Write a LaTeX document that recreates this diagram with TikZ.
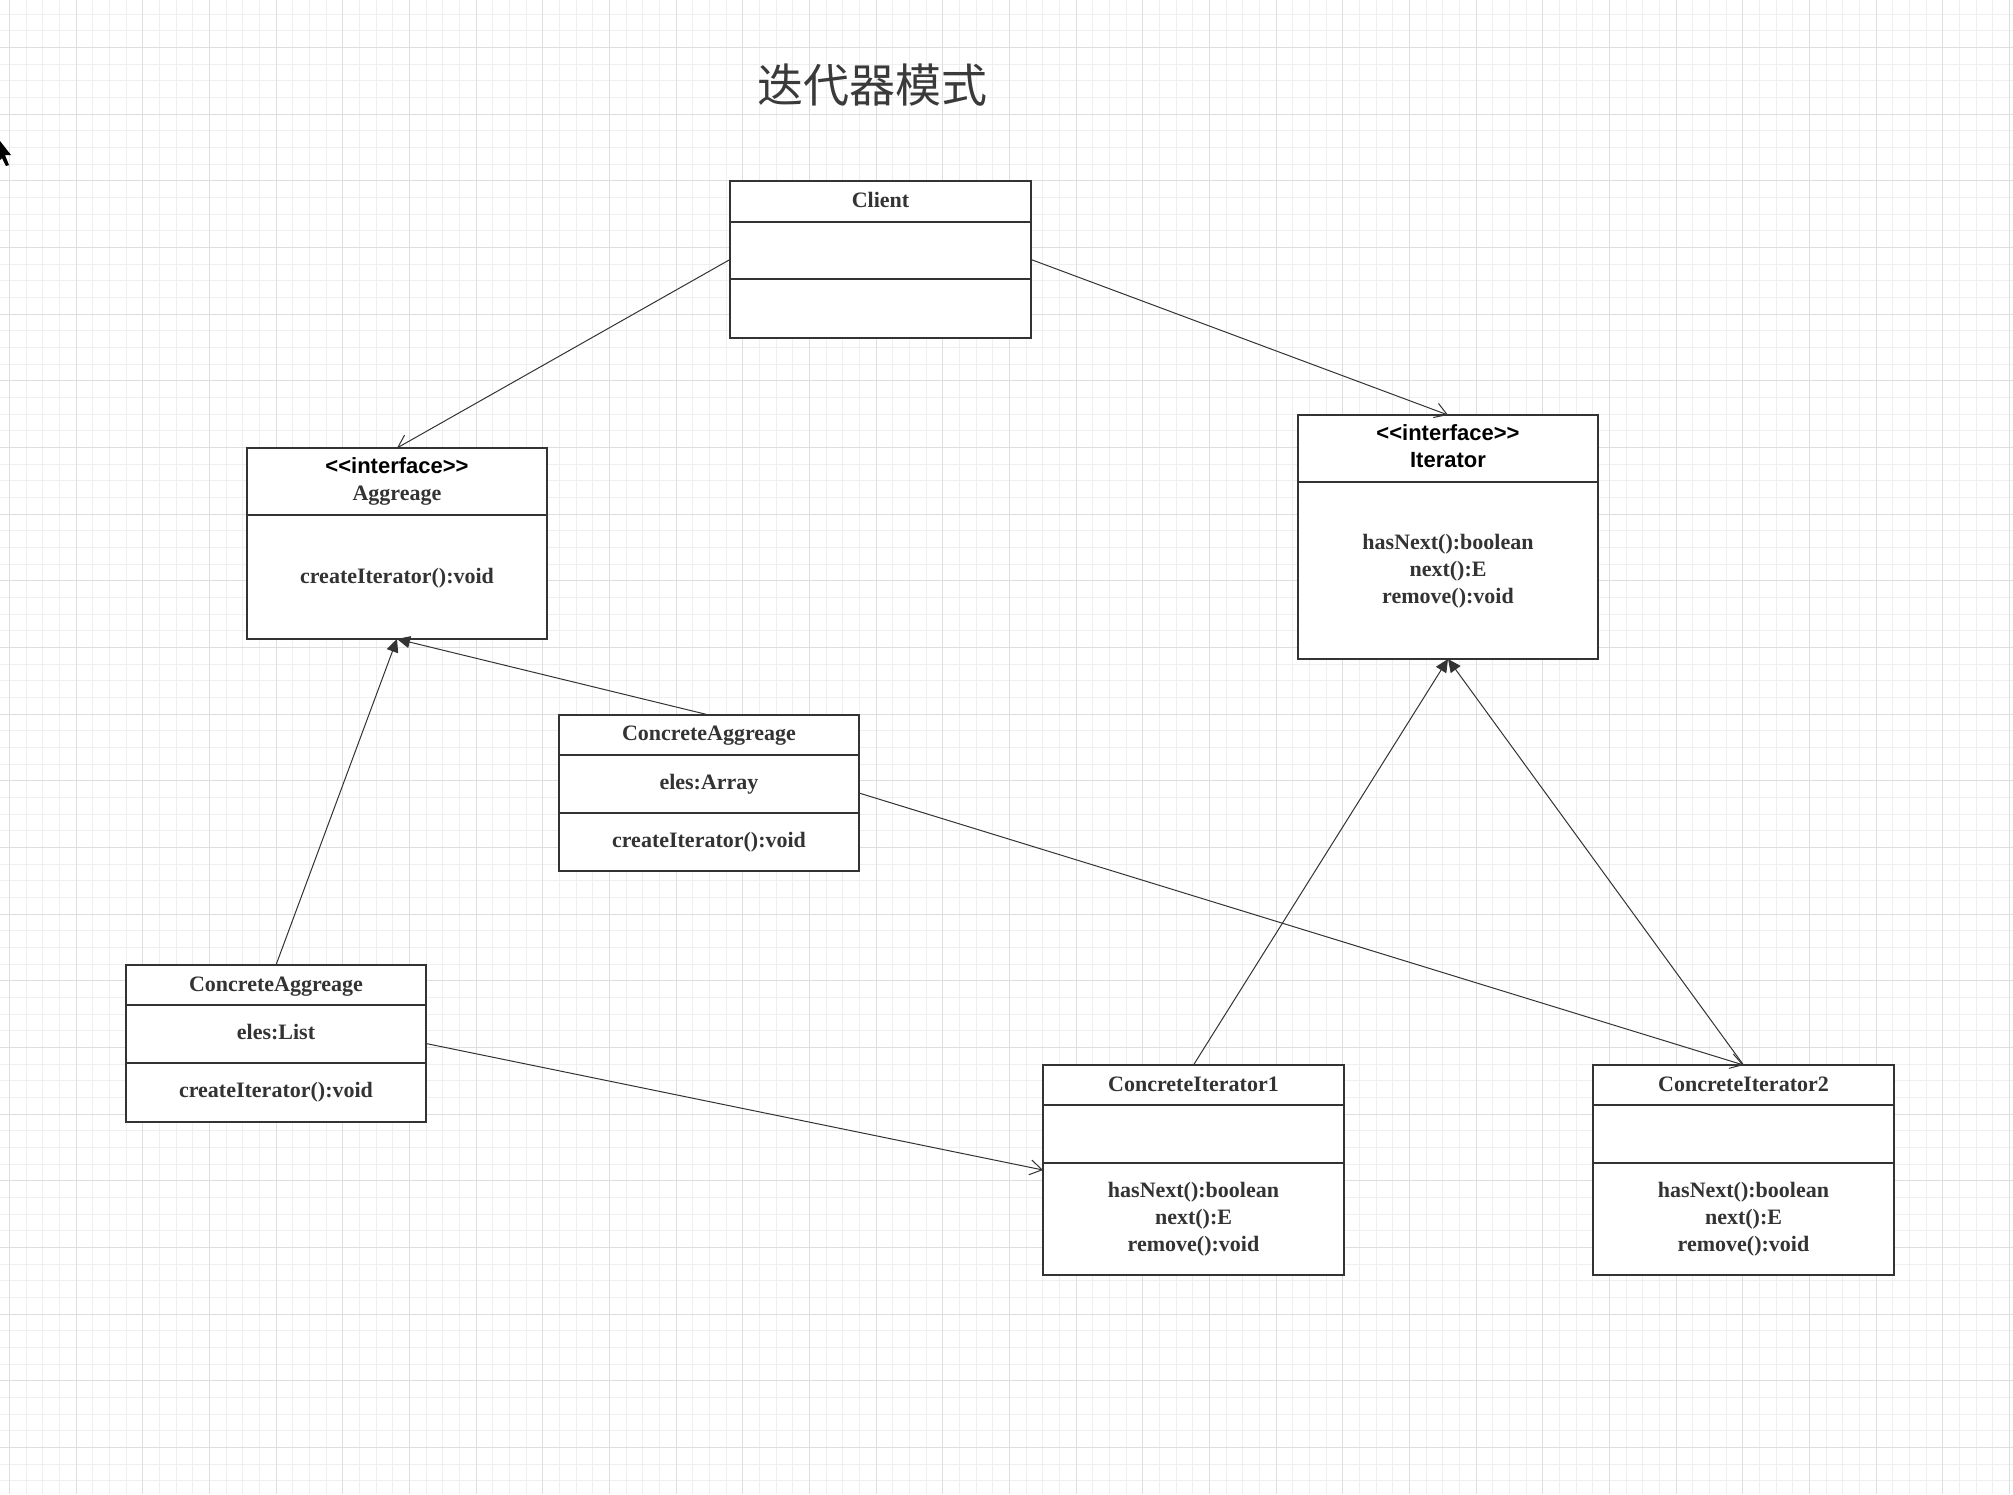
\documentclass[tikz,border=0pt]{standalone}
\usepackage{fontspec}
\setmainfont{Liberation Serif}
\setsansfont{Liberation Sans}
\newfontfamily\cjk{Noto Sans CJK SC}
\usetikzlibrary{arrows.meta,calc}
\definecolor{ink}{HTML}{333333}
\definecolor{titleink}{HTML}{3A3A3A}
\definecolor{gmin}{HTML}{EFEFEF}
\definecolor{gmaj}{HTML}{DEDEDE}
\tikzset{
  classbox/.style={draw=ink, line width=1pt, fill=white, inner sep=0pt, outer sep=0pt},
  divider/.style={draw=ink, line width=1pt},
  lbl/.style={font=\fontsize{11}{13.5}\selectfont\bfseries, text=ink, inner sep=0pt, anchor=base},
  slbl/.style={font=\fontsize{11}{13.5}\selectfont\sffamily\bfseries, text=black, inner sep=0pt, anchor=base},
  assoc/.style={draw=ink, line width=0.5pt, -{Straight Barb[length=6pt,width=7.5pt]}},
  realize/.style={draw=ink, line width=0.5pt, -{Triangle[length=6.5pt,width=6pt]}},
}
\begin{document}
\begin{tikzpicture}[x=0.5pt,y=-0.5pt]
\useasboundingbox (0,0) rectangle (2013,1494);
\fill[white] (0,0) rectangle (2013,1494);
% grid
\foreach \i in {0,...,120} \draw[gmin, line width=0.5pt] ({9.333+16.6667*\i},0) -- ({9.333+16.6667*\i},1494);
\foreach \i in {0,...,88} \draw[gmin, line width=0.5pt] (0,{14+16.6667*\i}) -- (2013,{14+16.6667*\i});
\foreach \i in {0,...,30} \draw[gmaj, line width=0.5pt] ({9.333+66.6667*\i},0) -- ({9.333+66.6667*\i},1494);
\foreach \i in {0,...,21} \draw[gmaj, line width=0.5pt] (0,{47.333+66.6667*\i}) -- (2013,{47.333+66.6667*\i});
% cursor
\fill[black] (0,141) -- (11,155) -- (5,155) -- (9,165) -- (6,166) -- (2,158) -- (0,160) -- cycle;
% title
\node[font=\cjk\fontsize{23}{23}\selectfont, text=titleink, inner sep=0pt] (title) at (872,85) {迭代器模式};

% Client
\node[classbox, minimum width=150.5pt, minimum height=78.5pt] (client) at (880.5,259.5) {};
\draw[divider] (client.west |- 0,222) -- (client.east |- 0,222);
\draw[divider] (client.west |- 0,279) -- (client.east |- 0,279);
\node[lbl] (clientT) at (880.5,207) {Client};

% Aggreage
\node[classbox, minimum width=150pt, minimum height=95.5pt] (agg) at (397,543.5) {};
\draw[divider] (agg.west |- 0,515) -- (agg.east |- 0,515);
\node[slbl] (aggS) at (397,473) {{<}{<}interface{>}{>}};
\node[lbl] (aggN) at (397,500) {Aggreage};
\node[lbl] (aggM) at (397,583) {createIterator():void};

% Iterator
\node[classbox, minimum width=150pt, minimum height=122pt] (iter) at (1448,537) {};
\draw[divider] (iter.west |- 0,482) -- (iter.east |- 0,482);
\node[slbl] (iterS) at (1448,440) {{<}{<}interface{>}{>}};
\node[slbl] (iterN) at (1448,467) {Iterator};
\node[lbl] (iterM1) at (1448,549) {hasNext():boolean};
\node[lbl] (iterM2) at (1448,576) {next():E};
\node[lbl] (iterM3) at (1448,603) {remove():void};

% ConcreteAggreage (List)
\node[classbox, minimum width=150pt, minimum height=78.5pt] (caL) at (276,1043.5) {};
\draw[divider] (caL.west |- 0,1005) -- (caL.east |- 0,1005);
\draw[divider] (caL.west |- 0,1063) -- (caL.east |- 0,1063);
\node[lbl] (caLT) at (276,991) {ConcreteAggreage};
\node[lbl] (caLA) at (276,1039) {eles:List};
\node[lbl] (caLM) at (276,1097) {createIterator():void};

% ConcreteAggreage (Array)
\node[classbox, minimum width=150pt, minimum height=78pt] (caA) at (709,793) {};
\draw[divider] (caA.west |- 0,755) -- (caA.east |- 0,755);
\draw[divider] (caA.west |- 0,813) -- (caA.east |- 0,813);
\node[lbl] (caAT) at (709,740) {ConcreteAggreage};
\node[lbl] (caAA) at (709,789) {eles:Array};
\node[lbl] (caAM) at (709,847) {createIterator():void};

% ConcreteIterator1
\node[classbox, minimum width=150.5pt, minimum height=105pt] (ci1) at (1193.5,1170) {};
\draw[divider] (ci1.west |- 0,1105) -- (ci1.east |- 0,1105);
\draw[divider] (ci1.west |- 0,1163) -- (ci1.east |- 0,1163);
\node[lbl] (ci1T) at (1193.5,1091) {ConcreteIterator1};
\node[lbl] (ci1M1) at (1193.5,1197) {hasNext():boolean};
\node[lbl] (ci1M2) at (1193.5,1224) {next():E};
\node[lbl] (ci1M3) at (1193.5,1251) {remove():void};

% ConcreteIterator2
\node[classbox, minimum width=150.5pt, minimum height=105pt] (ci2) at (1743.5,1170) {};
\draw[divider] (ci2.west |- 0,1105) -- (ci2.east |- 0,1105);
\draw[divider] (ci2.west |- 0,1163) -- (ci2.east |- 0,1163);
\node[lbl] (ci2T) at (1743.5,1091) {ConcreteIterator2};
\node[lbl] (ci2M1) at (1743.5,1197) {hasNext():boolean};
\node[lbl] (ci2M2) at (1743.5,1224) {next():E};
\node[lbl] (ci2M3) at (1743.5,1251) {remove():void};

% connectors
\draw[assoc] (client.west) -- (agg.north);
\draw[assoc] (client.east) -- (iter.north);
\draw[realize] (caL.north) -- (agg.south);
\draw[realize] (caA.north) -- (agg.south);
\draw[assoc] (caL.east) -- (ci1.west);
\draw[assoc] (caA.east) -- (ci2.north);
\draw[realize] (ci1.north) -- (iter.south);
\draw[realize] (ci2.north) -- (iter.south);
\end{tikzpicture}
\end{document}
